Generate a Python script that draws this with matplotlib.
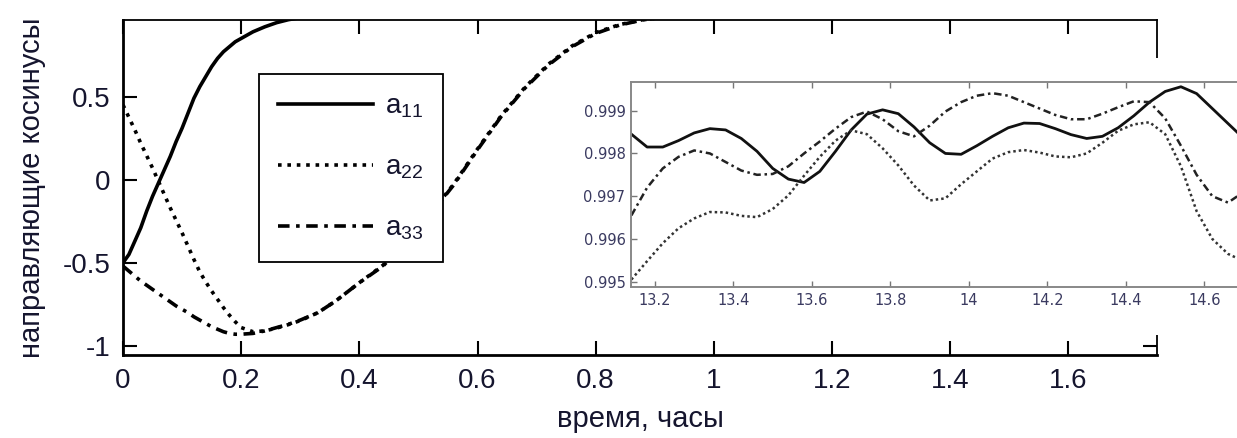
import matplotlib
matplotlib.use("Agg")
import matplotlib.pyplot as plt
from matplotlib.patches import Rectangle

plt.rcParams["font.family"] = ["Liberation Sans", "DejaVu Sans"]
plt.rcParams["mathtext.fontset"] = "custom"
plt.rcParams["mathtext.rm"] = "Liberation Sans"

# ---------------- main plot data ----------------
t_main = [0, 0.01, 0.02, 0.03, 0.04, 0.05, 0.06, 0.07, 0.08, 0.09, 0.10,
          0.11, 0.12, 0.13, 0.14, 0.15, 0.16, 0.17, 0.18, 0.19, 0.20,
          0.22, 0.24, 0.26, 0.28, 0.30, 0.33, 0.36, 0.40, 0.44, 0.48,
          0.52, 0.56, 0.60, 0.64, 0.68, 0.72, 0.76, 0.80, 0.84, 0.88,
          0.92, 0.96, 1.0, 1.1, 1.2, 1.3, 1.4, 1.5, 1.6, 1.7, 1.75]

a11 = [-0.50, -0.45, -0.37, -0.29, -0.19, -0.10, -0.02, 0.06, 0.14, 0.23, 0.31,
       0.40, 0.49, 0.56, 0.62, 0.68, 0.73, 0.77, 0.80, 0.83, 0.85,
       0.89, 0.92, 0.945, 0.963, 0.975, 0.985, 0.991, 0.994, 0.996, 0.997,
       0.997, 0.998, 0.998, 0.998, 0.998, 0.998, 0.998, 0.998, 0.998, 0.998,
       0.998, 0.998, 0.998, 0.998, 0.998, 0.998, 0.998, 0.998, 0.998, 0.998, 0.998]

a22 = [0.45, 0.375, 0.30, 0.22, 0.145, 0.07, -0.01, -0.09, -0.17, -0.245, -0.32,
       -0.40, -0.48, -0.555, -0.615, -0.67, -0.72, -0.77, -0.815, -0.855, -0.89,
       -0.915, -0.91, -0.893, -0.872, -0.848, -0.80, -0.73, -0.62, -0.515, -0.365,
       -0.205, -0.025, 0.185, 0.385, 0.555, 0.695, 0.805, 0.885, 0.933, 0.963,
       0.98, 0.99, 0.994, 0.997, 0.998, 0.998, 0.998, 0.998, 0.998, 0.998, 0.998]

a33 = [-0.52, -0.55, -0.58, -0.61, -0.635, -0.66, -0.685, -0.71, -0.735, -0.76, -0.78,
       -0.80, -0.825, -0.845, -0.865, -0.885, -0.90, -0.915, -0.925, -0.93, -0.93,
       -0.925, -0.91, -0.89, -0.87, -0.845, -0.80, -0.73, -0.62, -0.52, -0.37,
       -0.21, -0.03, 0.18, 0.38, 0.55, 0.69, 0.80, 0.88, 0.93, 0.962,
       0.98, 0.99, 0.994, 0.997, 0.998, 0.998, 0.998, 0.998, 0.998, 0.998, 0.998]

x_ticks = [0, 0.2, 0.4, 0.6, 0.8, 1.0, 1.2, 1.4, 1.6]
x_labels = ["0", "0.2", "0.4", "0.6", "0.8", "1", "1.2", "1.4", "1.6"]
y_ticks = [-1, -0.5, 0, 0.5]
y_labels = ["-1", "-0.5", "0", "0.5"]

# ---------------- inset data ----------------
t_in = [13.14, 13.18, 13.22, 13.26, 13.30, 13.34, 13.38, 13.42, 13.46, 13.50,
        13.54, 13.58, 13.62, 13.66, 13.70, 13.74, 13.78, 13.82, 13.86, 13.90,
        13.94, 13.98, 14.02, 14.06, 14.10, 14.14, 14.18, 14.22, 14.26, 14.30,
        14.34, 14.38, 14.42, 14.46, 14.50, 14.54, 14.58, 14.62, 14.66, 14.70]

a11_in = [0.99845, 0.99815, 0.99815, 0.99830, 0.99848, 0.99858, 0.99855, 0.99835, 0.99805, 0.99765,
          0.99740, 0.99732, 0.99758, 0.99805, 0.99855, 0.99892, 0.99902, 0.99893, 0.99862, 0.99825,
          0.99800, 0.99798, 0.99818, 0.99840, 0.99860, 0.99871, 0.99870, 0.99858, 0.99844, 0.99835,
          0.99840, 0.99860, 0.99888, 0.99920, 0.99945, 0.99956, 0.99940, 0.99905, 0.99870, 0.99835]

a22_in = [0.99505, 0.99548, 0.99590, 0.99625, 0.99648, 0.99663, 0.99662, 0.99654, 0.99651, 0.99670,
          0.99702, 0.99748, 0.99792, 0.99830, 0.99854, 0.99845, 0.99812, 0.99772, 0.99725, 0.99690,
          0.99695, 0.99728, 0.99758, 0.99788, 0.99803, 0.99808, 0.99802, 0.99793, 0.99791, 0.99800,
          0.99825, 0.99853, 0.99868, 0.99873, 0.99845, 0.99770, 0.99665, 0.99600, 0.99565, 0.99548]

a33_in = [0.99655, 0.99720, 0.99765, 0.99792, 0.99807, 0.99800, 0.99780, 0.99760, 0.99750, 0.99752,
          0.99770, 0.99800, 0.99828, 0.99858, 0.99885, 0.99898, 0.99880, 0.99852, 0.99840, 0.99865,
          0.99898, 0.99920, 0.99935, 0.99941, 0.99935, 0.99920, 0.99905, 0.99890, 0.99880, 0.99880,
          0.99893, 0.99908, 0.99922, 0.99920, 0.99882, 0.99818, 0.99750, 0.99700, 0.99685, 0.99710]

xin_ticks = [13.2, 13.4, 13.6, 13.8, 14.0, 14.2, 14.4, 14.6]
xin_labels = ["13.2", "13.4", "13.6", "13.8", "14", "14.2", "14.4", "14.6"]
yin_ticks = [0.995, 0.996, 0.997, 0.998, 0.999]
yin_labels = ["0.995", "0.996", "0.997", "0.998", "0.999"]

TXT = "#15152e"
W, H = 1237, 438

fig = plt.figure(figsize=(W / 100, H / 100), dpi=100)
fig.patch.set_facecolor("white")

# main axes (pixel box 123..1157 x 19.5..355)
ax = fig.add_axes([123 / W, 1 - 355 / H, 1034 / W, 335.5 / H])
dash_dot = (0, (3.2, 1.8, 1.0, 1.8))
ax.plot(t_main, a11, color="black", lw=2.6, ls="-", label=r"$\mathregular{a_{11}}$")
ax.plot(t_main, a22, color="black", lw=2.6, ls=(0, (1, 1.6)), label=r"$\mathregular{a_{22}}$")
ax.plot(t_main, a33, color="black", lw=2.6, ls=dash_dot, label=r"$\mathregular{a_{33}}$")

ax.set_xlim(0, 1.75)
ax.set_ylim(-1.055, 0.964)
ax.set_xticks(x_ticks)
ax.set_xticklabels(x_labels)
ax.set_yticks(y_ticks)
ax.set_yticklabels(y_labels)
ax.tick_params(direction="in", length=10, width=1.5, top=True, right=True,
               labelsize=20, labelcolor=TXT, pad=9)
for s in ax.spines.values():
    s.set_linewidth(1.3)
ax.spines["bottom"].set_linewidth(2.0)
ax.spines["left"].set_linewidth(2.0)

ax.set_xlabel("время, часы", fontsize=21, color=TXT, labelpad=8)
ax.set_ylabel("направляющие косинусы", fontsize=21, color=TXT, labelpad=12)

leg = ax.legend(loc="upper left", bbox_to_anchor=((259 - 123) / 1034, (355 - 74) / 335.5),
                borderaxespad=0, fontsize=20, handlelength=3.4, handletextpad=0.45,
                labelspacing=1.25, borderpad=0.7, fancybox=False, framealpha=1,
                edgecolor="black")
leg.get_frame().set_linewidth(1.3)
for txt in leg.get_texts():
    txt.set_color(TXT)

# white area behind the inset
fig.add_artist(Rectangle((565 / W, 1 - 335 / H), (W - 565 + 5) / W, (335 - 58) / H,
                         transform=fig.transFigure, facecolor="white",
                         edgecolor="none", zorder=1))

# inset axes (pixel box 631..1250 x 82..287)
axi = fig.add_axes([631 / W, 1 - 287 / H, (1250 - 631) / W, (287 - 82) / H], zorder=2)
axi.plot(t_in, a11_in, color="#111111", lw=2.0, ls="-")
axi.plot(t_in, a22_in, color="#333333", lw=1.8, ls=(0, (1, 1.2)))
axi.plot(t_in, a33_in, color="#222222", lw=1.8, ls=(0, (3.0, 1.5, 1.0, 1.5)))
axi.set_xlim(13.139, 14.716)
axi.set_ylim(0.994876, 0.999671)
axi.set_xticks(xin_ticks)
axi.set_xticklabels(xin_labels)
axi.set_yticks(yin_ticks)
axi.set_yticklabels(yin_labels)
axi.tick_params(direction="in", length=4, width=1.0, color="#777777", top=True,
                right=False, labelsize=10.5, labelcolor="#3a3a60", pad=4)
for s in axi.spines.values():
    s.set_linewidth(1.4)
    s.set_color("#888888")
for lab in axi.get_xticklabels() + axi.get_yticklabels():
    lab.set_family(["DejaVu Sans"])

fig.savefig("out.png", dpi=100)
